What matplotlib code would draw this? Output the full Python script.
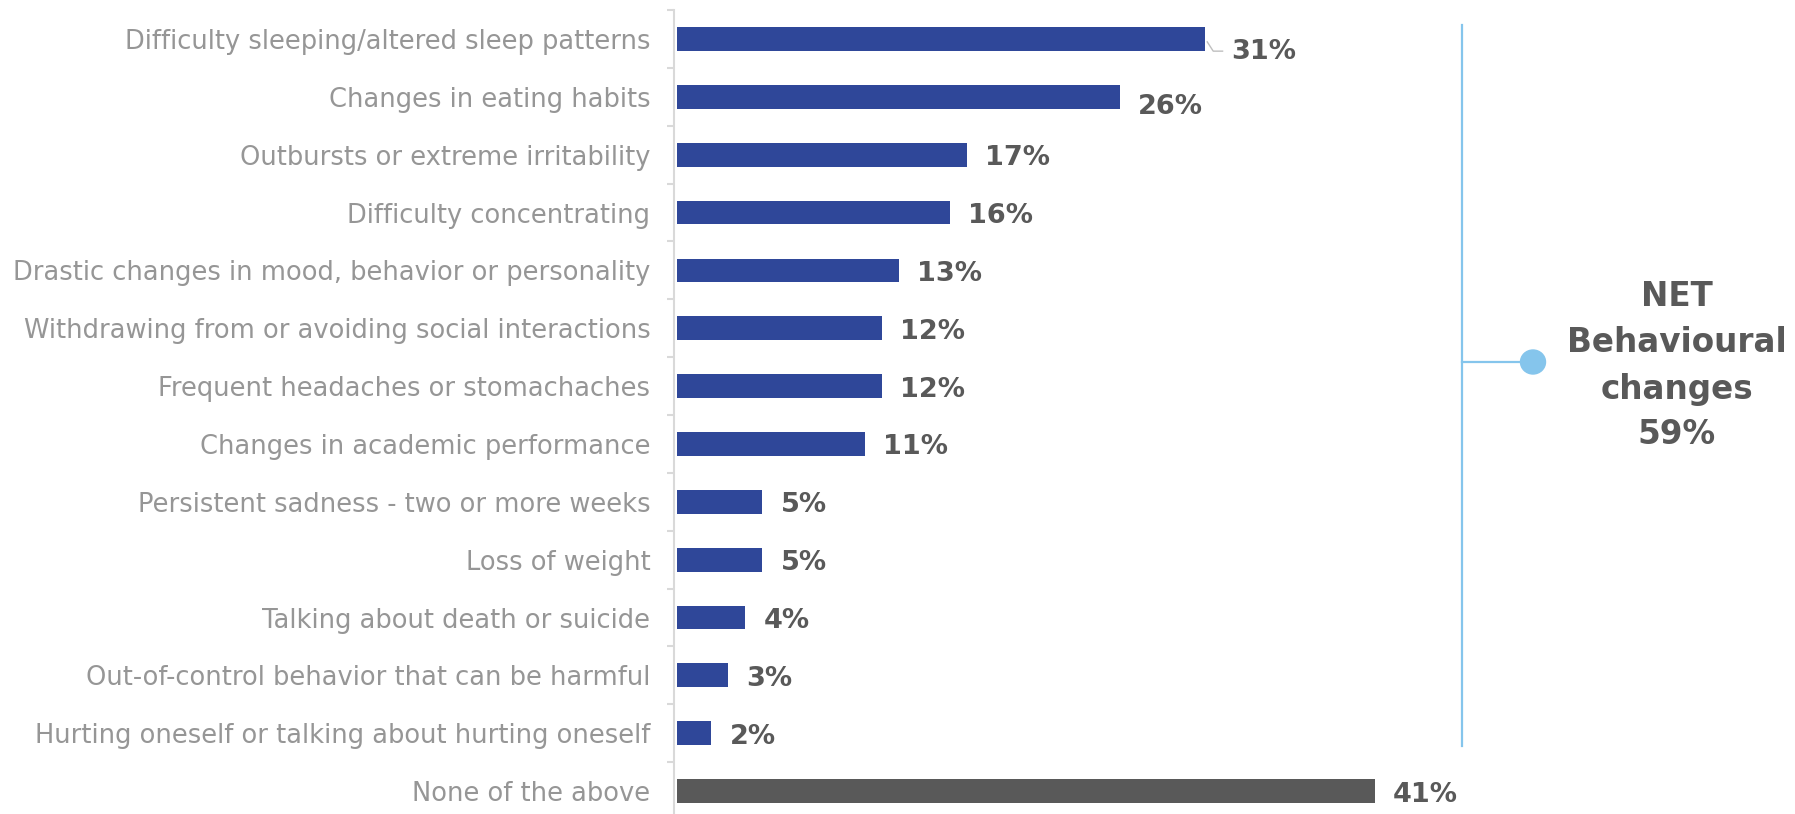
import matplotlib.pyplot as plt
from matplotlib.lines import Line2D
from matplotlib.patches import Ellipse

categories = [
    "Difficulty sleeping/altered sleep patterns",
    "Changes in eating habits",
    "Outbursts or extreme irritability",
    "Difficulty concentrating",
    "Drastic changes in mood, behavior or personality",
    "Withdrawing from or avoiding social interactions",
    "Frequent headaches or stomachaches",
    "Changes in academic performance",
    "Persistent sadness - two or more weeks",
    "Loss of weight",
    "Talking about death or suicide",
    "Out-of-control behavior that can be harmful",
    "Hurting oneself or talking about hurting oneself",
    "None of the above",
]
values = [31, 26, 17, 16, 13, 12, 12, 11, 5, 5, 4, 3, 2, 41]
net_label = "NET\nBehavioural\nchanges\n59%"

BLUE = "#2f4799"
DARK = "#595959"
LABEL_GREY = "#969696"
AXIS_GREY = "#d9d9d9"
NET_BLUE = "#85c5ec"

W, H = 1795, 814
fig = plt.figure(figsize=(W / 100, H / 100), dpi=100)
ax = fig.add_axes([674 / W, 0, 1121 / W, 1])

px_per_pct = 17.01
row_px = 57.85
ax.set_xlim(-0.2, -0.2 + 1121 / px_per_pct)
top = -39 / row_px
ax.set_ylim(top + H / row_px, top)

ypos = list(range(len(categories)))
colors = [BLUE] * (len(categories) - 1) + [DARK]
ax.barh(ypos, values, height=0.41, color=colors, zorder=3)

# value labels, the first two were nudged down in the original layout
nudge = [13, 10] + [3.5] * (len(values) - 2)
for i, v in enumerate(values):
    dx = 26 if i == 0 else 18
    ax.annotate(f"{v}%", xy=(v, i), xytext=(dx * 0.72, -nudge[i] * 0.72),
                textcoords="offset points", va="center", ha="left",
                fontsize=19.5, fontweight="bold", color=DARK,
                family="DejaVu Sans")

# leader line for the top label
v0 = values[0]
ax.plot([v0 + 0.15, v0 + 0.5, v0 + 1.05], [0.05, 0.21, 0.21],
        color="#bfbfbf", lw=1, zorder=4, clip_on=False)

for s in ["top", "right", "bottom"]:
    ax.spines[s].set_visible(False)
ax.spines["left"].set_color(AXIS_GREY)
ax.spines["left"].set_linewidth(1.5)
ax.spines["left"].set_bounds(-0.5, top + H / row_px)

ax.set_xticks([])
ax.set_yticks([i - 0.5 for i in range(len(categories))])
ax.set_yticklabels([])
ax.tick_params(axis="y", which="major", length=5, width=1.5, color=AXIS_GREY)
ax.set_yticks(ypos, minor=True)
ax.set_yticklabels(categories, minor=True)
ax.tick_params(axis="y", which="minor", length=0, pad=17, labelsize=18.5,
               labelcolor=LABEL_GREY)
for lbl in ax.get_yticklabels(minor=True):
    lbl.set_family("DejaVu Sans")

# NET bracket on the right
def fx(x):
    return x / W

def fy(y):
    return 1 - y / H

fig.add_artist(Line2D([fx(1462), fx(1462)], [fy(25), fy(746)],
                      color=NET_BLUE, lw=1.6))
fig.add_artist(Line2D([fx(1462), fx(1522)], [fy(362), fy(362)],
                      color=NET_BLUE, lw=1.6))
fig.add_artist(Ellipse((fx(1533), fy(362)), 25 / W, 24 / H,
                       color=NET_BLUE))
fig.text(fx(1677), fy(366), net_label, ha="center", va="center",
         fontsize=23.5, fontweight="bold", color=DARK, linespacing=1.5,
         family="DejaVu Sans")

fig.savefig("out.png", dpi=100, facecolor="white")
